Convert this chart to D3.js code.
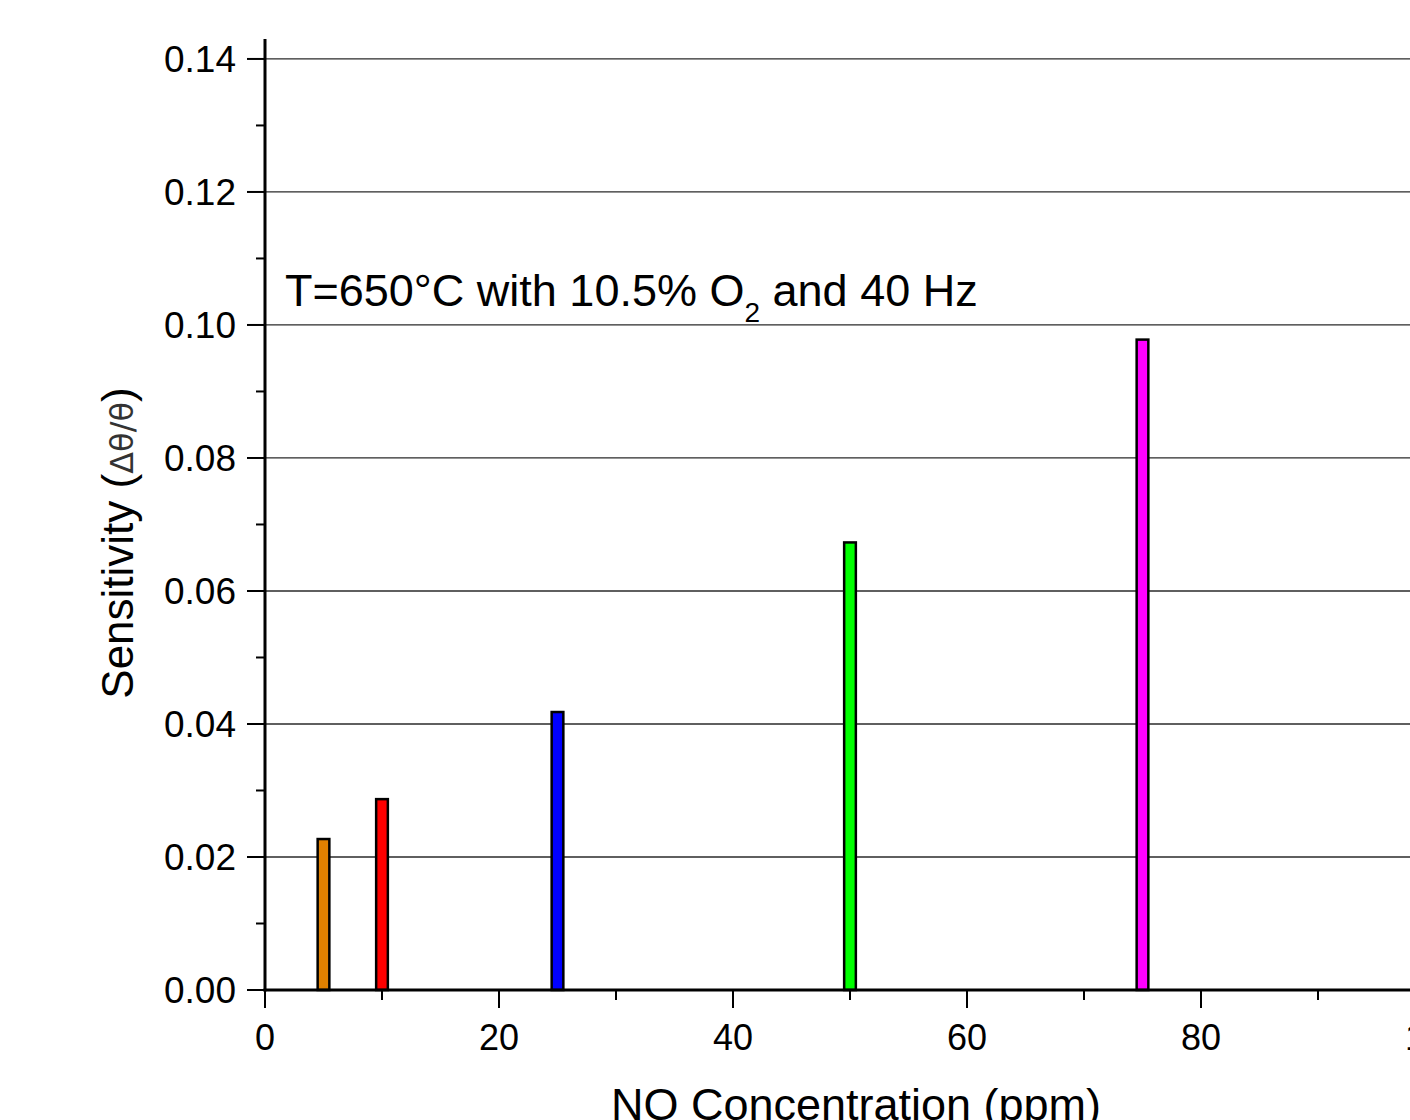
<!DOCTYPE html>
<html>
<head>
<meta charset="utf-8">
<script src="https://cdn.jsdelivr.net/npm/d3@7"></script>
<style>
  body { margin: 0; background: #fff; }
  svg text { font-family: "Liberation Sans", Arial, sans-serif; fill: #000; }
</style>
</head>
<body>
<div id="chart"></div>
<script>
// data
var concentrations = [5, 10, 25, 50, 75];
var sensitivity = [0.0227, 0.0287, 0.0418, 0.0673, 0.0978];
var barColors = ["#e08000", "#ff0000", "#0000ff", "#00ff00", "#ff00ff"];
var xTicks = [0, 20, 40, 60, 80, 100];
var yTicks = [0.00, 0.02, 0.04, 0.06, 0.08, 0.10, 0.12, 0.14];

var width = 1410, height = 1120;

var svg = d3.select("#chart").append("svg")
    .attr("width", width)
    .attr("height", height);

var x = d3.scaleLinear().domain([0, 100]).range([265, 1435]);
var y = d3.scaleLinear().domain([0, 0.143]).range([990, 39]);

// grid lines at major y ticks
svg.append("g").attr("class", "grid")
    .selectAll("line")
    .data(yTicks.slice(1))
    .enter().append("line")
    .attr("x1", x(0)).attr("x2", width)
    .attr("y1", function(d) { return y(d); })
    .attr("y2", function(d) { return y(d); })
    .attr("stroke", "#2a2a2a")
    .attr("stroke-width", 1.3);

// bars
var barW = x(1) - x(0);
svg.append("g").attr("class", "plot")
    .selectAll("rect")
    .data(concentrations)
    .enter().append("rect")
    .attr("x", function(d) { return x(d) - barW / 2; })
    .attr("y", function(d, i) { return y(sensitivity[i]); })
    .attr("width", barW)
    .attr("height", function(d, i) { return y(0) - y(sensitivity[i]); })
    .attr("fill", function(d, i) { return barColors[i]; })
    .attr("stroke", "#000")
    .attr("stroke-width", 2.5);

// x axis
var xAxis = svg.append("g").attr("transform", "translate(0," + y(0) + ")");
xAxis.append("line")
    .attr("x1", x(0) - 1.5).attr("x2", width)
    .attr("stroke", "#000").attr("stroke-width", 3);
xAxis.selectAll(".minor")
    .data(d3.range(10, 100, 20))
    .enter().append("line")
    .attr("x1", function(d) { return x(d); }).attr("x2", function(d) { return x(d); })
    .attr("y1", 0).attr("y2", 10)
    .attr("stroke", "#000").attr("stroke-width", 2);
xAxis.selectAll(".major")
    .data(xTicks)
    .enter().append("line")
    .attr("x1", function(d) { return x(d); }).attr("x2", function(d) { return x(d); })
    .attr("y1", 0).attr("y2", 18)
    .attr("stroke", "#000").attr("stroke-width", 2);
xAxis.selectAll("text")
    .data(xTicks)
    .enter().append("text")
    .attr("x", function(d) { return x(d); })
    .attr("y", 60)
    .attr("text-anchor", "middle")
    .attr("font-size", 36)
    .text(function(d) { return d; });

// y axis
var yAxis = svg.append("g").attr("transform", "translate(" + x(0) + ",0)");
yAxis.append("line")
    .attr("y1", y(0) + 1.5).attr("y2", y(0.143))
    .attr("stroke", "#000").attr("stroke-width", 3);
yAxis.selectAll(".minor")
    .data(d3.range(0.01, 0.14, 0.02))
    .enter().append("line")
    .attr("y1", function(d) { return y(d); }).attr("y2", function(d) { return y(d); })
    .attr("x1", 0).attr("x2", -9)
    .attr("stroke", "#000").attr("stroke-width", 2);
yAxis.selectAll(".major")
    .data(yTicks)
    .enter().append("line")
    .attr("y1", function(d) { return y(d); }).attr("y2", function(d) { return y(d); })
    .attr("x1", 0).attr("x2", -18)
    .attr("stroke", "#000").attr("stroke-width", 2);
yAxis.selectAll("text")
    .data(yTicks)
    .enter().append("text")
    .attr("x", -29)
    .attr("y", function(d) { return y(d) + 13; })
    .attr("text-anchor", "end")
    .attr("font-size", 37)
    .text(function(d) { return d3.format(".2f")(d); });

// annotation
var note = svg.append("text")
    .attr("x", 285).attr("y", 306)
    .attr("font-size", 45);
note.append("tspan").text("T=650\u00B0C with 10.5% O");
note.append("tspan").attr("font-size", 28).attr("dy", 16).text("2");
note.append("tspan").attr("dy", -16).text(" and 40 Hz");

// axis titles
var yTitle = svg.append("text")
    .attr("transform", "translate(133,543) rotate(-90)")
    .attr("text-anchor", "middle")
    .attr("font-size", 44);
yTitle.append("tspan").text("Sensitivity (");
yTitle.append("tspan").attr("font-size", 32).attr("font-family", "DejaVu Sans").attr("fill", "#333").text("\u0394\u03B8/\u03B8");
yTitle.append("tspan").text(")");

svg.append("text")
    .attr("x", 856).attr("y", 1120)
    .attr("text-anchor", "middle")
    .attr("font-size", 45)
    .text("NO Concentration (ppm)");
</script>
</body>
</html>
